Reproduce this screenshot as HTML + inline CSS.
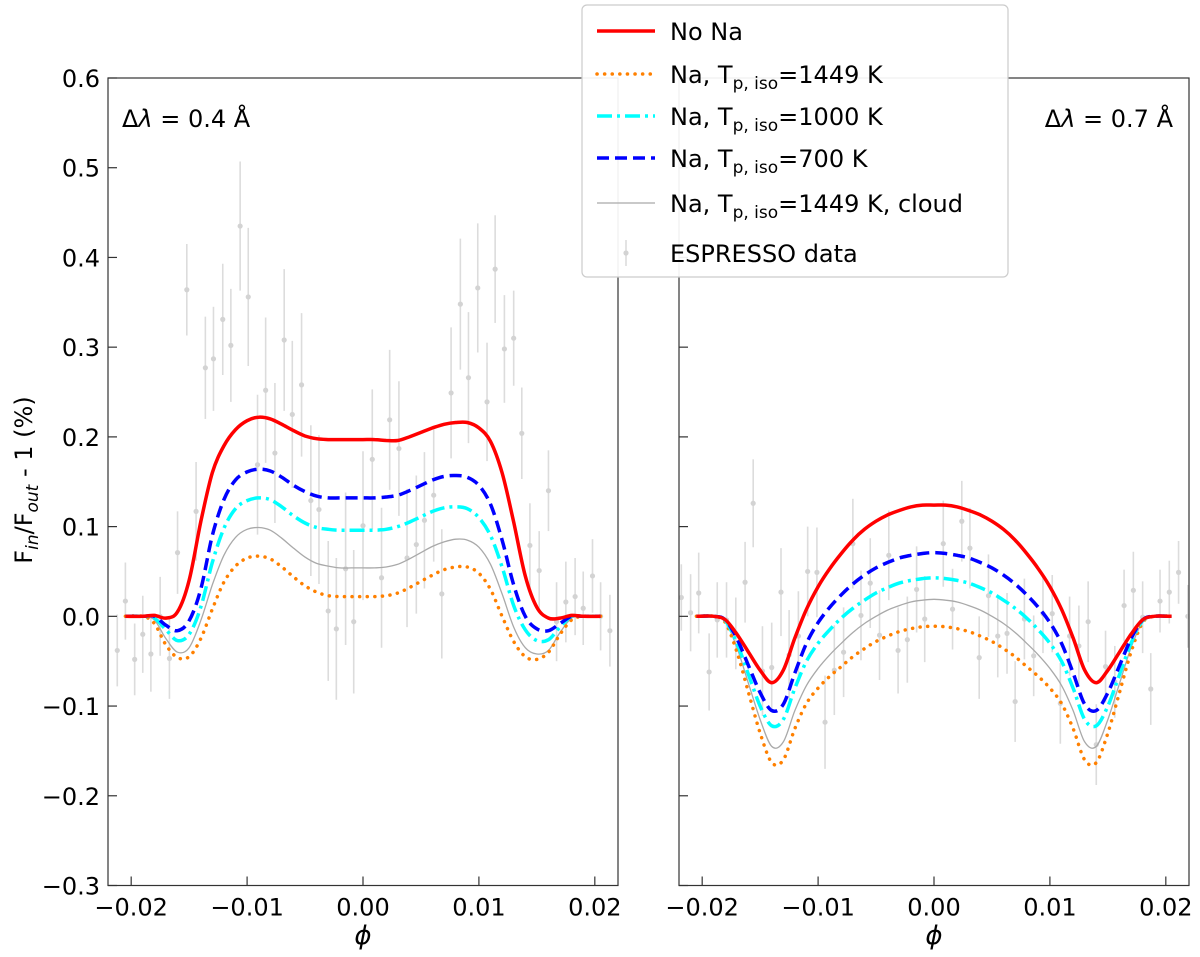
<!DOCTYPE html>
<html><head><meta charset="utf-8"><style>
html,body{margin:0;padding:0;background:#fff;}
svg{display:block;font-family:"DejaVu Sans","Liberation Sans",sans-serif;}
</style></head><body>
<svg id="chart" width="1200" height="957" viewBox="0 0 1200 957"></svg>
<script>
const phiGrid=[-0.0205,-0.019,-0.018,-0.017,-0.016,-0.015,-0.014,-0.013,-0.012,-0.011,-0.010,-0.009,-0.008,-0.007,-0.006,-0.005,-0.004,-0.003,-0.002,-0.001,0,0.001,0.002,0.003,0.004,0.005,0.006,0.007,0.008,0.009,0.010,0.011,0.012,0.013,0.014,0.015,0.016,0.017,0.018,0.019,0.0205];
const leftRed=[0,0,0.001,-0.002,0.005,0.04,0.105,0.16,0.19,0.208,0.218,0.222,0.22,0.214,0.207,0.201,0.198,0.197,0.197,0.197,0.197,0.197,0.196,0.196,0.2,0.205,0.21,0.214,0.216,0.216,0.21,0.195,0.16,0.105,0.045,0.01,-0.002,-0.002,0.001,0,0];
const leftBlue=[0,0,0,-0.01,-0.016,-0.005,0.03,0.09,0.13,0.152,0.161,0.164,0.162,0.155,0.146,0.139,0.134,0.132,0.132,0.132,0.132,0.132,0.133,0.135,0.14,0.146,0.152,0.156,0.157,0.155,0.146,0.125,0.085,0.035,0.0,-0.014,-0.016,-0.008,0,0,0];
const leftCyan=[0,0,-0.002,-0.015,-0.027,-0.02,0.01,0.06,0.098,0.12,0.129,0.132,0.13,0.122,0.112,0.104,0.099,0.097,0.096,0.096,0.096,0.096,0.097,0.1,0.105,0.111,0.117,0.121,0.122,0.12,0.11,0.09,0.055,0.012,-0.015,-0.027,-0.026,-0.012,0,0,0];
const leftGray=[0,0,-0.004,-0.025,-0.04,-0.035,-0.005,0.035,0.068,0.088,0.097,0.099,0.096,0.087,0.076,0.066,0.059,0.056,0.054,0.054,0.054,0.054,0.055,0.058,0.064,0.071,0.078,0.083,0.086,0.085,0.077,0.058,0.025,-0.012,-0.035,-0.042,-0.038,-0.018,-0.002,0,0];
const leftOrange=[0,0,-0.008,-0.032,-0.046,-0.045,-0.025,0.008,0.038,0.056,0.065,0.067,0.064,0.055,0.044,0.034,0.027,0.023,0.022,0.022,0.022,0.022,0.023,0.026,0.032,0.039,0.046,0.052,0.055,0.055,0.048,0.03,0.0,-0.028,-0.045,-0.048,-0.04,-0.02,-0.004,0,0];
const rightRed=[0,0,-0.004,-0.02,-0.04,-0.06,-0.074,-0.06,-0.024,0.008,0.033,0.053,0.07,0.085,0.097,0.106,0.113,0.118,0.122,0.124,0.124,0.124,0.122,0.118,0.113,0.106,0.097,0.085,0.07,0.053,0.033,0.008,-0.024,-0.06,-0.074,-0.06,-0.04,-0.02,-0.004,0,0];
const rightBlue=[0,0,-0.004,-0.025,-0.055,-0.085,-0.105,-0.098,-0.063,-0.03,-0.007,0.01,0.024,0.036,0.046,0.054,0.06,0.065,0.068,0.07,0.071,0.07,0.068,0.065,0.06,0.054,0.046,0.036,0.024,0.01,-0.007,-0.03,-0.063,-0.098,-0.105,-0.085,-0.055,-0.025,-0.004,0,0];
const rightCyan=[0,0,-0.005,-0.03,-0.065,-0.1,-0.122,-0.115,-0.08,-0.05,-0.03,-0.015,-0.002,0.009,0.018,0.026,0.032,0.037,0.040,0.042,0.043,0.042,0.040,0.037,0.032,0.026,0.018,0.009,-0.002,-0.015,-0.03,-0.05,-0.08,-0.115,-0.122,-0.1,-0.065,-0.03,-0.005,0,0];
const rightGray=[0,0,-0.006,-0.035,-0.075,-0.115,-0.145,-0.14,-0.105,-0.077,-0.058,-0.043,-0.03,-0.018,-0.008,0.0,0.007,0.012,0.016,0.018,0.019,0.018,0.016,0.012,0.007,0.0,-0.008,-0.018,-0.03,-0.043,-0.058,-0.077,-0.105,-0.14,-0.145,-0.115,-0.075,-0.035,-0.006,0,0];
const rightOrange=[0,0,-0.007,-0.04,-0.085,-0.13,-0.163,-0.16,-0.125,-0.097,-0.08,-0.067,-0.056,-0.045,-0.036,-0.028,-0.022,-0.017,-0.0138,-0.0117,-0.011,-0.0117,-0.0138,-0.017,-0.022,-0.028,-0.036,-0.045,-0.056,-0.067,-0.08,-0.097,-0.125,-0.16,-0.163,-0.13,-0.085,-0.04,-0.007,0,0];
const leftDataPhi=[-0.0212,-0.0205,-0.0197,-0.019,-0.0183,-0.0175,-0.0167,-0.016,-0.0152,-0.0144,-0.0136,-0.0129,-0.0121,-0.0114,-0.0106,-0.0099,-0.0091,-0.0084,-0.0076,-0.0068,-0.0061,-0.0053,-0.0045,-0.0038,-0.003,-0.0023,-0.0015,-0.0008,0,0.0008,0.0016,0.0023,0.0031,0.0038,0.0046,0.0053,0.0061,0.0068,0.0076,0.0084,0.0091,0.0099,0.0107,0.0114,0.0122,0.013,0.0137,0.0144,0.0152,0.016,0.0167,0.0175,0.0183,0.019,0.0198,0.0205,0.0213];
const leftDataVal=[-0.038,0.017,-0.048,-0.02,-0.042,0,-0.047,0.071,0.364,0.117,0.277,0.287,0.331,0.302,0.435,0.356,0.169,0.252,0.182,0.308,0.225,0.258,0.129,0.119,0.006,-0.014,0.053,-0.006,0.101,0.175,0.043,0.219,0.187,0.065,0.08,0.107,0.135,0.025,0.249,0.348,0.266,0.366,0.239,0.387,0.298,0.31,0.204,0.079,0.051,0.14,-0.006,0.016,0.022,0.009,0.045,0,-0.016];
const leftDataErr=[0.04,0.043,0.04,0.043,0.042,0.044,0.045,0.046,0.051,0.055,0.057,0.058,0.062,0.063,0.072,0.077,0.078,0.081,0.078,0.079,0.082,0.08,0.084,0.083,0.078,0.079,0.085,0.08,0.083,0.078,0.078,0.078,0.075,0.077,0.077,0.076,0.074,0.072,0.073,0.073,0.073,0.072,0.066,0.06,0.06,0.053,0.051,0.047,0.044,0.045,0.044,0.045,0.043,0.041,0.041,0.038,0.04];
const rightDataPhi=[-0.0218,-0.021,-0.0203,-0.0194,-0.0187,-0.0179,-0.0171,-0.0163,-0.0156,-0.0148,-0.014,-0.0132,-0.0125,-0.0117,-0.0109,-0.0101,-0.0094,-0.0086,-0.0078,-0.007,-0.0063,-0.0055,-0.0047,-0.0039,-0.0031,-0.0023,-0.0015,-0.0008,0.0008,0.0016,0.0024,0.0031,0.0039,0.0047,0.0055,0.0063,0.007,0.0078,0.0086,0.0094,0.0102,0.0109,0.0117,0.0125,0.0133,0.014,0.0148,0.0156,0.0164,0.0172,0.018,0.0187,0.0195,0.0203,0.0211,0.0219];
const rightDataVal=[0.021,0.004,0.026,-0.062,-0.004,-0.004,-0.019,0.038,0.126,-0.061,-0.057,0.027,-0.043,-0.022,0.05,0.049,-0.118,-0.06,-0.04,0.081,0.001,0.037,-0.021,0.068,-0.038,-0.026,0.03,-0.003,0.081,0.008,0.106,0.076,-0.046,0.023,-0.022,-0.019,-0.095,-0.003,-0.044,0.003,0.003,-0.097,-0.022,-0.033,-0.006,-0.143,-0.056,-0.073,0.012,0.029,-0.001,-0.081,0.017,0.027,0.049,0];
const rightDataErr=[0.037,0.043,0.045,0.043,0.042,0.042,0.04,0.045,0.049,0.05,0.05,0.049,0.05,0.05,0.05,0.05,0.052,0.05,0.05,0.05,0.05,0.05,0.05,0.05,0.048,0.048,0.048,0.048,0.048,0.045,0.045,0.045,0.046,0.046,0.046,0.045,0.045,0.045,0.045,0.044,0.043,0.045,0.044,0.045,0.045,0.045,0.04,0.04,0.04,0.043,0.04,0.04,0.035,0.035,0.035,0.035];
const xTicks=[-0.02,-0.01,0,0.01,0.02];
const xTickLabels=["\u22120.02","\u22120.01","0.00","0.01","0.02"];
const yTicks=[0.6,0.5,0.4,0.3,0.2,0.1,0,-0.1,-0.2,-0.3];
const yTickLabels=["0.6","0.5","0.4","0.3","0.2","0.1","0.0","\u22120.1","\u22120.2","\u22120.3"];

const NS="http://www.w3.org/2000/svg";
const svg=document.getElementById('chart');
function mk(tag,attrs,parent){const e=document.createElementNS(NS,tag);for(const k in attrs)e.setAttribute(k,attrs[k]);(parent||svg).appendChild(e);return e;}
const Y0=78,Y1=885.5,VMAX=0.6,VMIN=-0.3;
function yScale(v){return Y0+(VMAX-v)/(VMAX-VMIN)*(Y1-Y0);}
function makeX(left,right){const c=(left+right)/2;return p=>c+p*(right-left)/0.044;}
function smoothPath(pts){let d=`M${pts[0][0].toFixed(1)},${pts[0][1].toFixed(1)}`;for(let i=0;i<pts.length-1;i++){const p0=pts[Math.max(0,i-1)],p1=pts[i],p2=pts[i+1],p3=pts[Math.min(pts.length-1,i+2)];const c1=[p1[0]+(p2[0]-p0[0])/6,p1[1]+(p2[1]-p0[1])/6],c2=[p2[0]-(p3[0]-p1[0])/6,p2[1]-(p3[1]-p1[1])/6];d+=` C${c1[0].toFixed(1)},${c1[1].toFixed(1)} ${c2[0].toFixed(1)},${c2[1].toFixed(1)} ${p2[0].toFixed(1)},${p2[1].toFixed(1)}`;}return d;}
const styles={
 gray:{stroke:'#a9a9a9','stroke-width':1.3},
 orange:{stroke:'#ff8000','stroke-width':3.5,'stroke-dasharray':'0.1 7.5','stroke-linecap':'round'},
 cyan:{stroke:'#00ffff','stroke-width':3.5,'stroke-dasharray':'15 5 3 5'},
 blue:{stroke:'#0000ff','stroke-width':3.5,'stroke-dasharray':'12 6'},
 red:{stroke:'#ff0000','stroke-width':3.5}
};
function panel(name,left,right,series,dPhi,dVal,dErr,showYLabels){
 const g=mk('g',{});
 
 
 const xs=makeX(left,right);
 const clipId=name+'-clip';
 const cp=mk('clipPath',{id:clipId},g);mk('rect',{x:left,y:Y0,width:right-left,height:Y1-Y0},cp);
 const dg=mk('g',{'clip-path':`url(#${clipId})`},g);
 for(let i=0;i<dPhi.length;i++){
  const x=xs(dPhi[i]);
  const eb=mk('line',{x1:x,x2:x,y1:yScale(dVal[i]+dErr[i]),y2:yScale(dVal[i]-dErr[i]),stroke:'#dcdcdc','stroke-width':1.6},dg);
  
  
  const pt=mk('circle',{cx:x,cy:yScale(dVal[i]),r:2.6,fill:'#d3d3d3'},dg);
  
  
 }
 for(const [key,vals] of series){
  const pts=phiGrid.map((p,i)=>[xs(p),yScale(vals[i])]);
  const path=mk('path',Object.assign({d:smoothPath(pts),fill:'none'},styles[key]),dg);
  
  
 }
 const frame=mk('rect',{x:left,y:Y0,width:right-left,height:Y1-Y0,fill:'none',stroke:'#333','stroke-width':1.2},g);
 
 
 xTicks.forEach((t,i)=>{const x=xs(t);mk('line',{x1:x,x2:x,y1:Y1,y2:Y1-9,stroke:'#333','stroke-width':1.2},g);
  const tl=mk('text',{x:x,y:Y1+30,'text-anchor':'middle','font-size':24,fill:'#000'},g);tl.textContent=xTickLabels[i];
  
  });
 yTicks.forEach((t,i)=>{const y=yScale(t);mk('line',{x1:left,x2:left+9,y1:y,y2:y,stroke:'#333','stroke-width':1.2},g);
  if(showYLabels){const tl=mk('text',{x:left-8,y:y+9,'text-anchor':'end','font-size':24,fill:'#000'},g);tl.textContent=yTickLabels[i];
  
  }});
 const xl=mk('text',{x:(left+right)/2,y:944,'text-anchor':'middle','font-size':26,'font-style':'italic',fill:'#000'},g);xl.textContent='\u03d5';
 
 
}
panel('left',108,618,[['gray',leftGray],['orange',leftOrange],['cyan',leftCyan],['blue',leftBlue],['red',leftRed]],leftDataPhi,leftDataVal,leftDataErr,true);
panel('right',679,1189,[['gray',rightGray],['orange',rightOrange],['cyan',rightCyan],['blue',rightBlue],['red',rightRed]],rightDataPhi,rightDataVal,rightDataErr,false);
</script>
<script>
(function(){
const svg=document.getElementById('chart');const NS="http://www.w3.org/2000/svg";
function mk(tag,attrs,parent){const e=document.createElementNS(NS,tag);for(const k in attrs)e.setAttribute(k,attrs[k]);(parent||svg).appendChild(e);return e;}
const a1=mk('text',{x:122,y:127,'font-size':24,fill:'#000'});


a1.innerHTML='\u0394<tspan font-style="italic">\u03bb</tspan> = 0.4 \u00c5';
const a2=mk('text',{x:1173,y:127,'font-size':24,fill:'#000','text-anchor':'end'});


a2.innerHTML='\u0394<tspan font-style="italic">\u03bb</tspan> = 0.7 \u00c5';
const yl=mk('text',{transform:'translate(32,480) rotate(-90)','text-anchor':'middle','font-size':24,fill:'#000'});


yl.innerHTML='F<tspan font-style="italic" font-size="17" dy="6">in</tspan><tspan dy="-6">/F</tspan><tspan font-style="italic" font-size="17" dy="6">out</tspan><tspan dy="-6"> - 1 (%)</tspan>';
const lg=mk('g',{});


mk('rect',{x:582,y:5,width:426,height:272,rx:5,fill:'#fff','fill-opacity':0.92,stroke:'#ccc','stroke-width':1.2},lg);
const entries=[
 ['red',{stroke:'#ff0000','stroke-width':3.5},'No Na',31],
 ['orange',{stroke:'#ff8000','stroke-width':3.5,'stroke-dasharray':'0.1 7.5','stroke-linecap':'round'},'Na, T<tspan font-size="17" dy="6">p, iso</tspan><tspan dy="-6">=1449 K</tspan>',74],
 ['cyan',{stroke:'#00ffff','stroke-width':3.5,'stroke-dasharray':'15 5 3 5'},'Na, T<tspan font-size="17" dy="6">p, iso</tspan><tspan dy="-6">=1000 K</tspan>',116],
 ['blue',{stroke:'#0000ff','stroke-width':3.5,'stroke-dasharray':'12 6'},'Na, T<tspan font-size="17" dy="6">p, iso</tspan><tspan dy="-6">=700 K</tspan>',158],
 ['gray',{stroke:'#a9a9a9','stroke-width':1.3},'Na, T<tspan font-size="17" dy="6">p, iso</tspan><tspan dy="-6">=1449 K, cloud</tspan>',203]
];
entries.forEach(([k,st,label,y])=>{
 const eg=mk('g',{},lg);
 
 
 mk('line',Object.assign({x1:597,x2:655,y1:y,y2:y},st),eg);
 const t=mk('text',{x:670,y:y+9,'font-size':24,fill:'#000'},eg);t.innerHTML=label;
});
const eg=mk('g',{},lg);


mk('line',{x1:626,x2:626,y1:240,y2:266,stroke:'#dcdcdc','stroke-width':1.6},eg);
mk('circle',{cx:626,cy:253,r:2.6,fill:'#d3d3d3'},eg);
const t=mk('text',{x:670,y:262,'font-size':24,fill:'#000'},eg);t.textContent='ESPRESSO data';
})();
</script>
</body></html>
